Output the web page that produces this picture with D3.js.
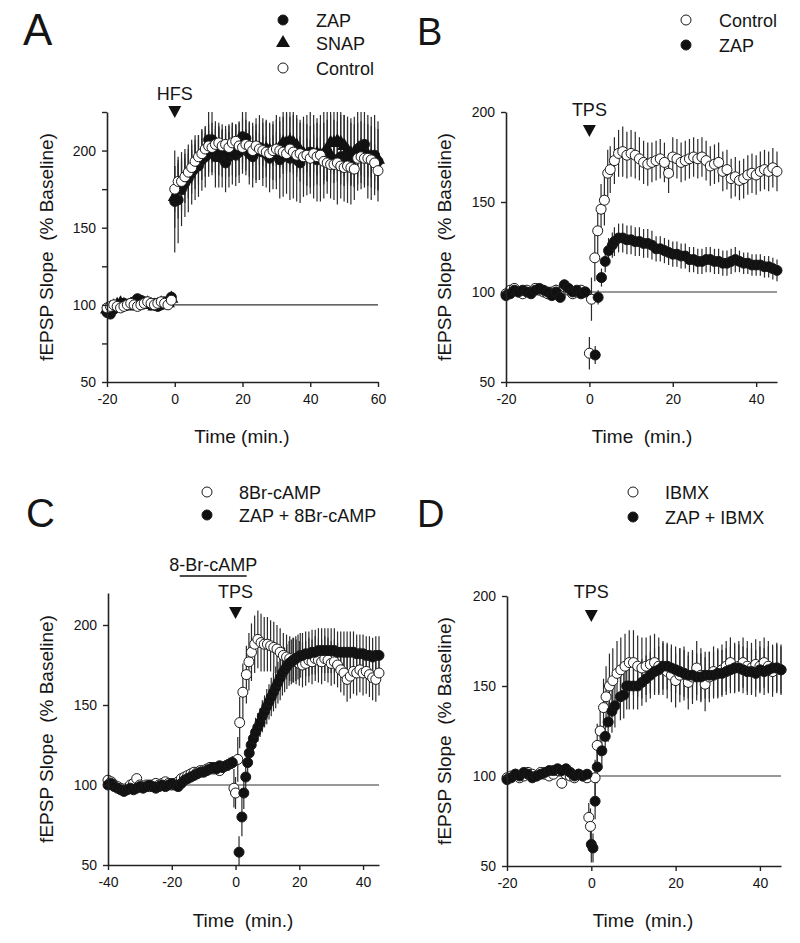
<!DOCTYPE html>
<html><head><meta charset="utf-8">
<script src="https://cdn.jsdelivr.net/npm/d3@7"></script>
<style>
body{margin:0;background:#fff}
svg{display:block}
text{font-family:"Liberation Sans",Arial,Helvetica,sans-serif;fill:#151515}
</style>
</head><body>
<svg id="chart" width="800" height="943"></svg>
<script>
// ================= DATA =================
// ---- Panel A (HFS) ----
const timeA = [-20,-19,-18,-17,-16,-15,-14,-13,-12,-11,-10,-9,-8,-7,-6,-5,-4,-3,-2,-1,
  0,1,2,3,4,5,6,7,8,9,10,11,12,13,14,15,16,17,18,19,20,21,22,23,24,25,26,27,28,29,30,
  31,32,33,34,35,36,37,38,39,40,41,42,43,44,45,46,47,48,49,50,51,52,53,54,55,56,57,58,59,60];
const zapA = [95,94,97,99,100,101,100,101,102,104,103,102,101,100,101,99,100,102,101,105,
  167,168,175,179,182,186,189,190,194,196,207,207,196,196,195,192,196,198,197,199,
  209,208,198,196,200,202,199,198,195,197,199,194,196,198,195,196,194,192,196,197,
  199,196,194,195,197,199,196,194,192,196,195,194,193,195,201,203,204,196,195,197,193];
const zapErrA = [3,3,3,3,2,3,3,2,3,3,3,2,3,3,2,3,3,2,3,3,
  33,28,24,22,22,21,21,20,20,20,21,21,20,20,19,19,20,20,20,20,
  21,21,20,20,21,21,22,22,22,22,24,25,26,26,27,27,27,26,26,26,
  27,27,27,28,28,27,27,26,27,27,28,28,28,27,27,28,28,27,27,26,26];
const snapA = [97,98,99,100,101,100,99,100,101,102,101,100,101,100,99,100,101,100,101,104,
  170,174,178,182,185,188,191,194,197,199,200,201,202,201,200,199,200,201,200,201,
  203,202,201,200,199,199,200,201,200,199,200,202,205,205,206,205,203,200,198,197,
  196,197,198,197,198,200,205,205,206,205,203,200,198,197,198,199,198,197,196,195,194];
const snapErrA = [3,3,3,3,3,3,3,3,3,3,3,3,3,3,3,3,3,3,3,3,
  20,18,17,16,16,16,16,16,16,16,17,17,17,17,17,17,17,17,17,17,
  18,18,18,18,18,18,18,18,18,18,20,20,20,20,20,20,20,20,20,20,
  20,20,20,20,20,20,20,20,20,20,20,20,20,20,20,20,20,20,20,20,20];
const ctrlA = [98,99,100,99,98,99,100,101,100,99,100,101,102,101,100,101,102,101,100,103,
  175,180,180,183,186,189,193,196,198,201,203,202,204,205,203,204,202,205,206,203,
  202,204,203,200,203,201,200,199,198,200,201,200,199,198,201,199,197,198,196,197,
  195,198,196,197,193,192,191,191,192,190,189,190,189,188,195,196,195,195,194,192,187];
const ctrlErrA = [2,2,2,2,2,2,2,2,2,2,2,2,2,2,2,2,2,2,2,3,
  15,14,13,12,12,11,11,11,10,10,10,10,10,10,10,10,10,10,10,10,
  10,10,10,10,10,10,10,10,10,10,11,11,11,11,11,11,11,11,11,11,
  12,12,12,12,12,12,12,12,12,12,12,12,12,12,12,12,12,12,12,12,12];

// ---- Panel B (TPS) ----
const baseTimeB = [-20,-19,-18,-17,-16,-15,-14,-13,-12,-11,-10,-9,-8,-7,-6,-5,-4,-3,-2,-1];
const ctrlB_base = [99,101,102,100,99,101,100,102,101,100,99,100,101,98,103,101,99,100,101,100];
const ctrlB_baseErr = [2,2,3,2,2,2,3,2,2,2,2,2,3,2,3,2,2,2,2,2];
const ctrlB_postTime = [0,0.5,1.3,2,2.8,3.6,4.4,5,6,7,8,9,10,11,12,13,14,15,16,17,18,19,20,
  21,22,23,24,25,26,27,28,29,30,31,32,33,34,35,36,37,38,39,40,41,42,43,44,45];
const ctrlB_post = [66,96,119,134,146,151,166,
  168,173,177,178,176,177,176,174,172,171,
  172,173,174,172,166,175,174,172,173,174,
  175,174,175,173,170,171,172,167,168,163,
  164,162,163,165,166,165,167,168,167,169,167];
const ctrlB_postErr = [9,12,13,14,14,14,13,
  13,13,13,14,13,13,13,12,12,12,
  11,11,11,11,11,11,11,11,11,11,
  11,11,11,11,11,11,11,11,11,11,
  11,11,11,11,11,11,11,11,11,11,11];
const zapB_base = [98,99,101,100,101,100,99,101,102,101,100,98,100,97,104,102,100,101,99,100];
const zapB_baseErr = [2,2,2,2,2,2,2,2,2,2,2,2,2,2,3,2,2,2,2,2];
const zapB_postTime = [1.4,2.1,2.9,3.8,4.6,5.5,6,7,8,9,10,11,12,13,14,15,16,17,18,19,20,
  21,22,23,24,25,26,27,28,29,30,31,32,33,34,35,36,37,38,39,40,41,42,43,44,45];
const zapB_post = [65,97,108,117,123,126,
  128,130,130,129,129,128,128,127,127,126,
  124,124,123,122,121,121,120,120,118,118,
  117,117,118,118,117,117,116,116,117,118,
  117,116,116,115,115,115,114,114,113,112];
const zapB_postErr = [5,4,5,6,7,7,
  8,8,8,8,8,8,8,8,8,8,
  7,7,7,7,7,7,7,7,7,7,
  7,7,7,7,7,7,7,7,7,7,
  6,6,6,6,6,6,6,6,6,6];

// ---- Panel C (8-Br-cAMP + TPS) ----
const baseTimeC = [-40,-39,-38,-37,-36,-35,-34,-33,-32,-31,-30,-29,-28,-27,-26,-25,-24,-23,-22,-21,
  -20,-19,-18,-17,-16,-15,-14,-13,-12,-11,-10,-9,-8,-7,-6,-5,-4,-3,-2,-1];
const brC_base = [103,102,100,99,98,97,98,100,101,104,
  100,99,100,99,100,101,100,101,102,101,
  100,101,102,104,105,106,107,108,108,109,
  109,110,111,110,111,109,111,112,113,114];
const brC_baseErr = [3,2,2,2,2,2,2,2,2,3,2,2,2,2,2,2,2,2,2,2,
  2,2,2,3,3,3,3,3,3,3,3,3,3,3,3,3,3,3,4,4];
const brC_postTime = [-0.5,0,0.7,1.3,2.3,3.4,4.2,5,6,7,8,9,10,11,12,13,14,15,16,17,18,19,20,
  21,22,23,24,25,26,27,28,29,30,31,32,33,34,35,36,37,38,39,40,41,42,43,44,45];
const brC_post = [98,95,116,139,158,169,177,
  183,188,191,189,188,188,187,186,185,183,
  181,180,179,178,177,176,175,176,178,177,
  179,178,177,179,178,176,177,175,172,170,
  166,168,171,170,172,170,171,169,167,166,170];
const brC_postErr = [12,10,14,16,18,18,18,
  18,18,18,18,17,17,16,16,15,15,
  14,14,14,14,14,14,14,14,14,14,
  14,14,14,14,14,14,14,14,14,14,
  14,14,14,14,14,14,14,14,14,14,14];
const zapBrC_base = [100,101,99,98,97,96,97,98,97,98,
  99,98,99,100,99,98,99,100,99,100,
  101,100,99,101,103,104,105,106,107,108,
  108,109,110,111,110,112,111,112,113,114];
const zapBrC_baseErr = [2,2,2,2,2,2,2,2,2,2,2,2,2,2,2,2,2,2,2,2,
  2,2,2,2,3,3,3,3,3,3,3,3,3,3,3,3,3,3,4,4];
const zapBrC_postTime = [1.1,2,2.6,3.2,3.8,4.3,4.9,5.6,6.3,7,
  7.7,8.4,9.1,9.8,10.5,11.2,11.9,12.6,13.3,14,
  14.7,15.4,16.1,16.8,17.5,18.2,18.9,19.6,20.3,21,
  22,23,24,25,26,27,28,29,30,31,32,33,34,35,36,37,38,39,40,41,42,43,44,45];
const zapBrC_post = [58,80,95,105,114,120,125,129,133,136,
  139,143,146,149,152,155,158,161,164,167,
  170,172,174,176,177,178,179,180,181,181,
  182,182,183,183,184,184,184,184,184,184,
  183,183,183,183,183,183,182,182,182,181,
  181,180,181,181];
const zapBrC_postErr = [10,12,10,8,8,8,8,8,9,9,
  9,10,10,11,11,12,12,13,13,14,
  14,14,14,14,14,14,14,14,14,14,
  14,14,14,14,14,14,14,14,14,14,
  13,13,13,13,13,13,12,12,12,12,
  12,12,12,12];
const drugC = [-17.5, 3.5];

// ---- Panel D (IBMX + TPS) ----
const baseTimeD = [-20,-19,-18,-17,-16,-15,-14,-13,-12,-11,-10,-9,-8,-7,-6,-5,-4,-3,-2,-1];
const ibmxD_base = [99,100,101,99,100,102,101,100,102,101,100,101,103,96,101,100,99,101,100,99];
const ibmxD_baseErr = [2,2,2,2,2,2,2,2,2,2,2,2,3,3,2,2,2,2,2,2];
const ibmxD_postTime = [-0.6,-0.2,0.9,1.4,2.1,2.9,3.5,4.3,5.1,6.1,7,
  8,9,10,11,12,13,14,15,16,17,18,19,20,21,22,23,24,25,26,27,28,29,30,
  31,32,33,34,35,36,37,38,39,40,41,42,43,44,45];
const ibmxD_post = [77,72,99,117,125,138,144,150,153,157,159,
  161,163,163,161,160,161,162,163,161,160,
  158,156,153,156,157,152,155,160,156,151,
  155,158,157,159,161,163,160,161,163,161,
  160,162,161,163,161,158,160,159];
const ibmxD_postErr = [8,10,10,12,14,16,17,18,18,18,18,
  18,18,18,17,17,16,16,16,16,15,
  15,15,15,15,15,15,15,15,15,15,
  14,14,14,14,14,14,14,14,14,14,
  14,14,14,14,14,14,14,14];
const zapIbD_base = [98,99,101,100,102,101,99,100,101,102,103,103,104,103,104,102,100,101,100,101];
const zapIbD_baseErr = [2,2,2,2,2,2,2,2,2,2,2,2,2,2,2,2,2,2,2,2];
const zapIbD_postTime = [0,0.4,0.9,1.4,2.5,3.3,4,4.9,5.6,6.9,7.7,8.4,
  9,10,11,12,13,14,15,16,17,18,19,20,21,22,23,24,25,26,27,28,29,30,
  31,32,33,34,35,36,37,38,39,40,41,42,43,44,45];
const zapIbD_post = [62,60,86,105,114,122,130,136,139,144,145,150,
  150,150,150,152,154,156,158,159,161,161,
  160,159,158,157,156,156,155,155,156,156,
  156,157,157,158,159,160,160,159,158,158,
  157,159,158,159,160,160,159];
const zapIbD_postErr = [10,8,10,9,10,10,11,12,12,13,13,13,
  13,13,13,13,13,13,13,13,13,13,
  13,13,13,13,13,13,13,13,13,13,
  13,13,13,13,13,13,13,13,13,13,
  13,13,13,13,13,13,13];

// tick labels
const ticksA_x = [-20,0,20,40,60];
const ticksA_y = [50,75,100,125,150,175,200,225];
const labelsA_y = [50,100,150,200];
const ticksB_x = [-20,0,20,40];
const ticksB_y = [50,100,150,200];
const ticksC_x = [-40,-20,0,20,40];
const ticksC_y = [50,100,150,200];
const ticksD_x = [-20,0,20,40];
const ticksD_y = [50,100,150,200];

// ================= DRAWING =================
const svg = d3.select('#chart');
svg.append('rect').attr('width',800).attr('height',943).attr('fill','#fff');
const FONT = '"Liberation Sans",Arial,Helvetica,sans-serif';

function pts(t, v, e){ return t.map((d,i)=>({t:d, v:v[i], e:e[i]})); }

const panels = [
  { letter:'A', letterX:23, letterY:45, letterSize:44,
    xDomain:[-20,60], xRange:[107,378], yDomain:[50,225], yRange:[382,112],
    xTicks:ticksA_x, yTicks:ticksA_y, yLabels:labelsA_y,
    xTitle:'Time (min.)', xTitleX:242, xTitleY:443, yTitleX:53,
    stim:{label:'HFS', t:0, textY:100, triTop:106, triBot:118},
    series:[
      {name:'ZAP', sym:'filled', data:pts(timeA, zapA, zapErrA)},
      {name:'SNAP', sym:'tri', data:pts(timeA, snapA, snapErrA)},
      {name:'Control', sym:'open', data:pts(timeA, ctrlA, ctrlErrA)}
    ],
    legend:{x:283, tx:316, ys:[20,43,68], order:[0,1,2]}
  },
  { letter:'B', letterX:417, letterY:45, letterSize:38,
    xDomain:[-20,45], xRange:[506,777], yDomain:[50,200], yRange:[382,112],
    xTicks:ticksB_x, yTicks:ticksB_y, yLabels:ticksB_y,
    xTitle:'Time  (min.)', xTitleX:642, xTitleY:443, yTitleX:451,
    stim:{label:'TPS', t:0, textY:116, triTop:125, triBot:137},
    series:[
      {name:'Control', sym:'open', data:pts(baseTimeB.concat(ctrlB_postTime), ctrlB_base.concat(ctrlB_post), ctrlB_baseErr.concat(ctrlB_postErr))},
      {name:'ZAP', sym:'filled', data:pts(baseTimeB.concat(zapB_postTime), zapB_base.concat(zapB_post), zapB_baseErr.concat(zapB_postErr))}
    ],
    legend:{x:686, tx:719, ys:[20,45], order:[0,1]}
  },
  { letter:'C', letterX:26, letterY:527, letterSize:40,
    xDomain:[-40,45], xRange:[108,379], yDomain:[50,220], yRange:[865,593],
    xTicks:ticksC_x, yTicks:ticksC_y, yLabels:ticksC_y,
    xTitle:'Time  (min.)', xTitleX:243, xTitleY:927, yTitleX:53,
    stim:{label:'TPS', t:0, textY:598, triTop:607, triBot:619},
    drug:{label:'8-Br-cAMP', range:drugC, lineY:576, textY:571},
    series:[
      {name:'8Br-cAMP', sym:'open', data:pts(baseTimeC.concat(brC_postTime), brC_base.concat(brC_post), brC_baseErr.concat(brC_postErr))},
      {name:'ZAP + 8Br-cAMP', sym:'filled', data:pts(baseTimeC.concat(zapBrC_postTime), zapBrC_base.concat(zapBrC_post), zapBrC_baseErr.concat(zapBrC_postErr))}
    ],
    legend:{x:207, tx:239, ys:[492,515], order:[0,1]}
  },
  { letter:'D', letterX:417, letterY:527, letterSize:38,
    xDomain:[-20,45], xRange:[507,781], yDomain:[50,200], yRange:[866,596],
    xTicks:ticksD_x, yTicks:ticksD_y, yLabels:ticksD_y,
    xTitle:'Time  (min.)', xTitleX:643, xTitleY:927, yTitleX:451,
    stim:{label:'TPS', t:0, textY:598, triTop:610, triBot:622},
    series:[
      {name:'IBMX', sym:'open', data:pts(baseTimeD.concat(ibmxD_postTime), ibmxD_base.concat(ibmxD_post), ibmxD_baseErr.concat(ibmxD_postErr))},
      {name:'ZAP + IBMX', sym:'filled', data:pts(baseTimeD.concat(zapIbD_postTime), zapIbD_base.concat(zapIbD_post), zapIbD_baseErr.concat(zapIbD_postErr))}
    ],
    legend:{x:633, tx:665, ys:[492,517], order:[0,1]}
  }
];

const R = 5;
const triPath = d3.symbol().type(d3.symbolTriangle).size(85)();

function drawMarker(sel, sym){
  if (sym === 'tri') {
    sel.append('path').attr('d', triPath).attr('fill','#111');
  } else {
    sel.append('circle').attr('r', R)
      .attr('fill', sym==='filled' ? '#111' : '#fff')
      .attr('stroke', '#1a1a1a').attr('stroke-width', 1);
  }
}

panels.forEach(p => {
  const x = d3.scaleLinear().domain(p.xDomain).range(p.xRange);
  const y = d3.scaleLinear().domain(p.yDomain).range(p.yRange);
  const g = svg.append('g');

  // reference line at 100 %
  g.append('line')
    .attr('x1', x(p.xDomain[0])).attr('x2', x(p.xDomain[1]))
    .attr('y1', y(100)).attr('y2', y(100))
    .attr('stroke','#333').attr('stroke-width',1.2);

  // error bars
  p.series.forEach(s => {
    g.append('g').selectAll('line').data(s.data).join('line')
      .attr('x1', d => x(d.t)).attr('x2', d => x(d.t))
      .attr('y1', d => y(Math.min(d.v + d.e, p.yDomain[1])))
      .attr('y2', d => y(Math.max(d.v - d.e, p.yDomain[0])))
      .attr('stroke', '#2b2b2b').attr('stroke-width', 1.2);
  });

  // markers
  p.series.forEach(s => {
    const mg = g.append('g').selectAll('g').data(s.data).join('g')
      .attr('transform', d => `translate(${x(d.t)},${y(d.v)})`);
    mg.each(function(){ drawMarker(d3.select(this), s.sym); });
  });

  // axes (plain hyphen for negative numbers, as in the original)
  const xAxis = d3.axisBottom(x).tickValues(p.xTicks).tickSize(5).tickSizeOuter(0).tickPadding(7)
    .tickFormat(d => String(d));
  const yAxis = d3.axisLeft(y).tickValues(p.yTicks).tickSize(5).tickSizeOuter(0).tickPadding(6)
    .tickFormat(d => p.yLabels.includes(d) ? String(d) : '');
  const gx = g.append('g').attr('transform', `translate(0,${p.yRange[0]})`).call(xAxis);
  const gy = g.append('g').attr('transform', `translate(${p.xRange[0]},0)`).call(yAxis);
  [gx, gy].forEach(a => {
    a.attr('font-family', FONT).attr('font-size', 14);
    a.selectAll('path.domain').attr('stroke','#222').attr('stroke-width',1.6);
    a.selectAll('.tick line').attr('stroke','#222').attr('stroke-width',1.4);
    a.selectAll('.tick text').attr('fill','#1a1a1a');
  });

  // axis titles
  g.append('text').attr('x', p.xTitleX).attr('y', p.xTitleY)
    .attr('text-anchor','middle').attr('font-size', 19).style('white-space','pre')
    .text(p.xTitle);
  const yMid = (p.yRange[0] + p.yRange[1]) / 2;
  g.append('text').attr('transform', `translate(${p.yTitleX},${yMid}) rotate(-90)`)
    .attr('text-anchor','middle').attr('font-size', 19).style('white-space','pre')
    .text('fEPSP Slope  (% Baseline)');

  // panel letter
  g.append('text').attr('x', p.letterX).attr('y', p.letterY)
    .attr('font-size', p.letterSize).text(p.letter);

  // stimulus marker
  const sx = x(p.stim.t);
  g.append('text').attr('x', sx).attr('y', p.stim.textY)
    .attr('text-anchor','middle').attr('font-size', 18).text(p.stim.label);
  g.append('path')
    .attr('d', `M${sx-6.5},${p.stim.triTop}L${sx+6.5},${p.stim.triTop}L${sx},${p.stim.triBot}Z`)
    .attr('fill','#111');

  // drug application bar
  if (p.drug) {
    const x0 = x(p.drug.range[0]), x1 = x(p.drug.range[1]);
    g.append('line').attr('x1', x0).attr('x2', x1).attr('y1', p.drug.lineY).attr('y2', p.drug.lineY)
      .attr('stroke','#111').attr('stroke-width',1.6);
    g.append('text').attr('x', (x0+x1)/2).attr('y', p.drug.textY)
      .attr('text-anchor','middle').attr('font-size', 18).text(p.drug.label);
  }

  // legend
  p.legend.order.forEach((si, k) => {
    const s = p.series[si];
    const ly = p.legend.ys[k];
    const lg = g.append('g').attr('transform', `translate(${p.legend.x},${ly})`);
    drawMarker(lg, s.sym);
    g.append('text').attr('x', p.legend.tx).attr('y', ly + 6.5)
      .attr('font-size', 18).text(s.name);
  });
});
</script>
</body></html>
